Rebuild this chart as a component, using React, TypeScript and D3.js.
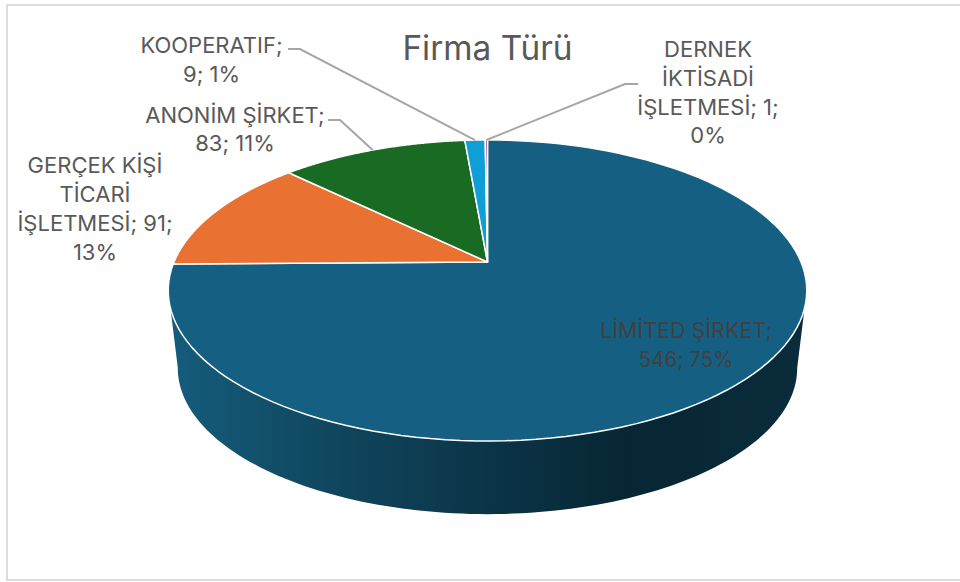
import React from "react";
import * as d3 from "d3";

const categories = ["LİMİTED ŞİRKET", "GERÇEK KİŞİ TİCARİ İŞLETMESİ", "ANONİM ŞİRKET", "KOOPERATİF", "DERNEK İKTİSADİ İŞLETMESİ"];
const values = [546, 91, 83, 9, 1];
const colors = ["#156082", "#E97132", "#196B24", "#0F9ED5", "#A02B93"];
const titleText = "Firma Türü";

const W = 960, H = 582;
const FONT = "Inter, 'Noto Sans', sans-serif";
const TEXT = "#595959";

// perspective projection of the unit circle
const cx = 487.5, y0 = 262, A = 313.5, B = 145.1, K = 0.1894;
const project = (a: number): [number, number] => {
  const u = Math.sin(a), v = Math.cos(a), w = 1 + K * v;
  return [cx + (A * u) / w, y0 - (B * v) / w];
};
// bottom rim of the wall, same projection shifted
const projectBottom = (a: number): [number, number] => {
  const u = Math.sin(a), v = Math.cos(a), w = 1 + K * v;
  return [cx + (A * 0.97 * u) / w, y0 + 74 - (B * 0.97 * v) / w + 4.5];
};

const line = d3.line();
const sample = (f: (a: number) => [number, number], a0: number, a1: number) =>
  d3.range(0, 121).map((i) => f(a0 + ((a1 - a0) * i) / 120));

const arcs = d3.pie<number>().sort(null)(values);
const slicePath = (s: d3.PieArcDatum<number>) =>
  line([[cx, y0], ...sample(project, s.startAngle, s.endAngle)])! + "Z";

type Lab = { lines: string[]; x: number; y: number; lh: number; leader?: [number, number][]; slice?: number };
const labels: Lab[] = [
  { lines: ["KOOPERATIF;", "9; 1%"], x: 211.5, y: 53, lh: 28.5, slice: 3, leader: [[288, 49], [300, 49]] },
  { lines: ["ANONİM ŞİRKET;", "83; 11%"], x: 235, y: 122.5, lh: 28.5, slice: 2, leader: [[328, 120], [340, 120]] },
  { lines: ["GERÇEK KİŞİ", "TİCARİ", "İŞLETMESİ; 91;", "13%"], x: 95, y: 173, lh: 29 },
  { lines: ["DERNEK", "İKTİSADİ", "İŞLETMESİ; 1;", "0%"], x: 708, y: 57, lh: 28.8, slice: 4, leader: [[638, 84], [625, 84]] },
];

export default function App() {
  // wall outline: front part of the top rim joined to the front part of the bottom rim
  const wallA0 = Math.PI * 0.56, wallA1 = Math.PI * 1.44;
  const wall =
    line([...sample(project, wallA0, wallA1), ...sample(projectBottom, wallA0, wallA1).reverse()])! + "Z";
  return (
    <svg width={W} height={H} style={{ position: "fixed", left: 0, top: 0, background: "#fff" }}>
      <defs>
        <linearGradient id="wallGrad" gradientUnits="userSpaceOnUse" x1={168} x2={808} y1={0} y2={0}>
          <stop offset="0" stopColor="#155c7c" />
          <stop offset="0.25" stopColor="#10475f" />
          <stop offset="0.5" stopColor="#0b3447" />
          <stop offset="0.72" stopColor="#072633" />
          <stop offset="1" stopColor="#0a2c3b" />
        </linearGradient>
      </defs>
      <rect x={7} y={5} width={W + 10} height={575} fill="#fff" stroke="#dcdcdc" strokeWidth={2} />
      <path d={wall} fill="url(#wallGrad)" />
      {arcs.map((s, i) => (
        <path key={categories[i]} d={slicePath(s)} fill={colors[i]} stroke="#fff" strokeWidth={1.5} strokeLinejoin="round" />
      ))}
      <text x={487.5} y={60} textAnchor="middle" fontFamily={FONT} fontSize={33.4} fill={TEXT}>{titleText}</text>
      {labels.map((l, i) => {
        let pts: [number, number][] | null = null;
        if (l.leader && l.slice !== undefined) {
          const s = arcs[l.slice];
          pts = [...l.leader, project((s.startAngle + s.endAngle) / 2)];
        }
        return (
          <g key={i}>
            {pts && <path d={line(pts)!} fill="none" stroke="#a6a6a6" strokeWidth={2} />}
            <text textAnchor="middle" fontFamily={FONT} fontSize={22} fill={TEXT}>
              {l.lines.map((t, j) => (
                <tspan key={j} x={l.x} y={l.y + j * l.lh}>{t}</tspan>
              ))}
            </text>
          </g>
        );
      })}
      <text textAnchor="middle" fontFamily={FONT} fontSize={22} fill="#404040">
        <tspan x={686} y={338} textLength={172} lengthAdjust="spacingAndGlyphs">LİMİTED ŞİRKET;</tspan>
        <tspan x={686} y={367} textLength={95} lengthAdjust="spacingAndGlyphs">546; 75%</tspan>
      </text>
    </svg>
  );
}
